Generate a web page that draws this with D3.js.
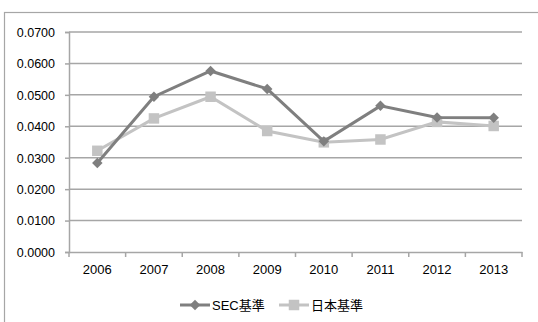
<!DOCTYPE html>
<html>
<head>
<meta charset="utf-8">
<script src="https://cdn.jsdelivr.net/npm/d3@7"></script>
<style>
  body { margin: 0; background: #fff; }
  text { font-family: "Liberation Sans", Arial, "Noto Sans CJK JP", sans-serif; fill: #000; }
</style>
</head>
<body>
<svg id="chart" width="538" height="322"></svg>
<script>
var years = ["2006", "2007", "2008", "2009", "2010", "2011", "2012", "2013"];
var secValues = [0.0283, 0.0494, 0.0576, 0.0519, 0.0352, 0.0465, 0.0428, 0.0427];
var jpValues = [0.0322, 0.0425, 0.0494, 0.0385, 0.0349, 0.0358, 0.0414, 0.0401];
var yTicks = [0, 0.01, 0.02, 0.03, 0.04, 0.05, 0.06, 0.07];
var seriesNames = ["SEC基準", "日本基準"];

var svg = d3.select("#chart");

// outer chart frame (partly outside the window)
svg.append("rect")
    .attr("x", 4.5).attr("y", 12.5)
    .attr("width", 560).attr("height", 340)
    .attr("fill", "none")
    .attr("stroke", "#a6a6a6")
    .attr("stroke-width", 1.2);

var x = d3.scaleBand().domain(years).range([69, 522]);
var y = d3.scaleLinear().domain([0, 0.07]).range([252, 32]);

// gridlines
svg.append("g").selectAll("line")
    .data(yTicks.slice(1))
    .enter().append("line")
    .attr("x1", 69).attr("x2", 522)
    .attr("y1", function (d) { return y(d); })
    .attr("y2", function (d) { return y(d); })
    .attr("stroke", "#a6a6a6")
    .attr("stroke-width", 1.5);

// y axis
var yAxis = svg.append("g")
    .attr("transform", "translate(69,0)")
    .call(d3.axisLeft(y).tickValues(yTicks).tickFormat(d3.format(".4f")).tickSize(4).tickPadding(10));
yAxis.selectAll("text").attr("font-size", "12.5px").attr("dy", "0.35em");

// x axis
var xAxis = svg.append("g")
    .attr("transform", "translate(0,252)")
    .call(d3.axisBottom(x).tickSize(0).tickPadding(13));
xAxis.selectAll("text").attr("font-size", "13px");

// x ticks between categories
svg.append("g").selectAll("line")
    .data(years.concat(["end"]))
    .enter().append("line")
    .attr("x1", function (d, i) { return 69 + i * x.step(); })
    .attr("x2", function (d, i) { return 69 + i * x.step(); })
    .attr("y1", 252).attr("y2", 257)
    .attr("stroke", "#a6a6a6")
    .attr("stroke-width", 1.5);

svg.selectAll(".domain").attr("stroke", "#a6a6a6").attr("stroke-width", 1.5);
yAxis.selectAll(".tick line").attr("stroke", "#a6a6a6").attr("stroke-width", 1.5);

function cx(d, i) { return x(years[i]) + x.bandwidth() / 2; }

var line = d3.line()
    .x(function (d, i) { return cx(d, i); })
    .y(function (d) { return y(d); });

// diamond = square turned 45 degrees
var diamond = d3.symbol().type(d3.symbolSquare).size(55);
var square = d3.symbol().type(d3.symbolSquare).size(110);

// 日本基準 first (drawn below SEC)
svg.append("path")
    .datum(jpValues)
    .attr("d", line)
    .attr("fill", "none")
    .attr("stroke", "#c3c3c3")
    .attr("stroke-width", 3);
svg.append("g").selectAll("path")
    .data(jpValues)
    .enter().append("path")
    .attr("d", square)
    .attr("transform", function (d, i) { return "translate(" + cx(d, i) + "," + y(d) + ")"; })
    .attr("fill", "#c3c3c3");

svg.append("path")
    .datum(secValues)
    .attr("d", line)
    .attr("fill", "none")
    .attr("stroke", "#7f7f7f")
    .attr("stroke-width", 3);
svg.append("g").selectAll("path")
    .data(secValues)
    .enter().append("path")
    .attr("d", diamond)
    .attr("transform", function (d, i) { return "translate(" + cx(d, i) + "," + y(d) + ") rotate(45)"; })
    .attr("fill", "#7f7f7f");

// legend
var legendX = [180, 279];
var legendColors = ["#7f7f7f", "#c3c3c3"];
var legendSymbols = [diamond, square];
var legendRotate = [45, 0];
var legend = svg.append("g").selectAll("g")
    .data(seriesNames)
    .enter().append("g")
    .attr("transform", function (d, i) { return "translate(" + legendX[i] + ",305)"; });
legend.append("line")
    .attr("x1", 0).attr("x2", 30)
    .attr("stroke", function (d, i) { return legendColors[i]; })
    .attr("stroke-width", 3);
legend.append("path")
    .attr("d", function (d, i) { return legendSymbols[i](); })
    .attr("transform", function (d, i) { return "translate(15,0) rotate(" + legendRotate[i] + ")"; })
    .attr("fill", function (d, i) { return legendColors[i]; });
legend.append("text")
    .attr("x", 32).attr("dy", "0.35em")
    .attr("font-size", "13px")
    .text(function (d) { return d; });
</script>
</body>
</html>
